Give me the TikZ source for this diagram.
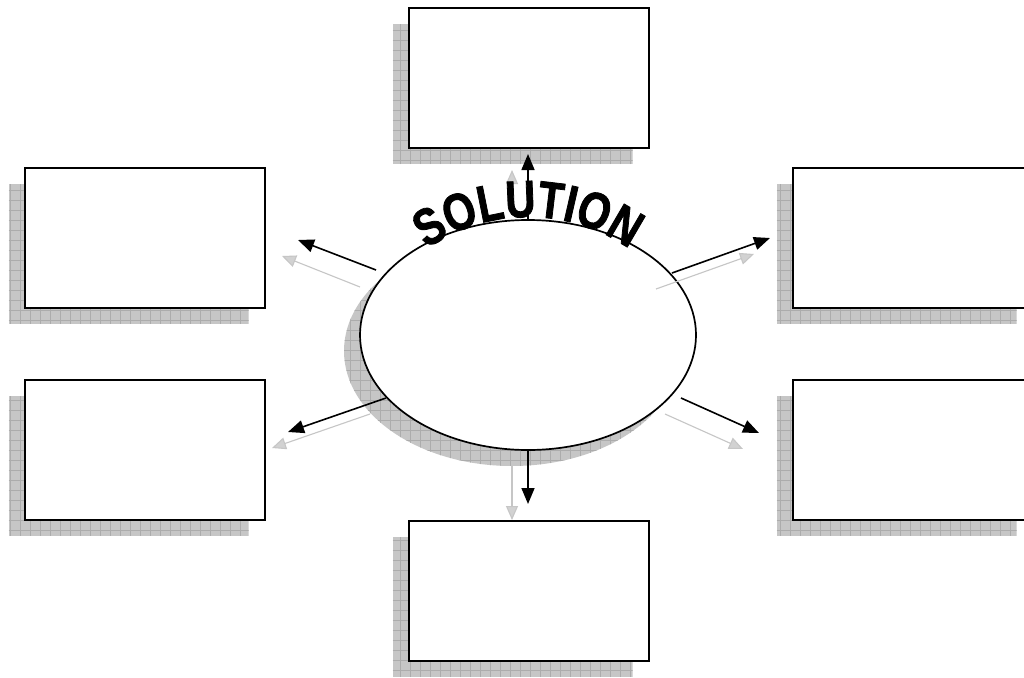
\documentclass[tikz,border=0pt]{standalone}
\usepackage{fontspec}
\newfontfamily\solfont{Liberation Sans}[FakeStretch=0.8,FakeBold=1.5]
\usetikzlibrary{arrows.meta,decorations.text,shapes.geometric,backgrounds,calc}
\tikzset{
  box/.style={draw=black, line width=2pt, fill=white, minimum width=240pt, minimum height=140pt, inner sep=0pt, outer sep=0pt},
  shfill/.style={fill=gray!45},
  shgrid/.style={draw=gray!65, line width=0.6pt},
  arr/.style={line width=1.6pt, -{Triangle[length=16pt,width=13pt]}},
  sarr/.style={line width=1.1pt, draw=gray!45, -{Triangle[length=14pt,width=12pt,fill=gray!35]}},
}
\newcommand\shadowrect[2]{%
  \begin{scope}
    \clip #1 rectangle #2;
    \fill[shfill] #1 rectangle #2;
    \draw[shgrid, step=10pt] #1 grid #2;
  \end{scope}}
\begin{document}
\begin{tikzpicture}[x=1pt,y=1pt]
\clip (0,0) rectangle (1024,-677);
% boxes
\node[box] (top) at (528.5,-78) {};
\node[box] (lt) at (144.5,-237.5) {};
\node[box] (lb) at (144.5,-449.5) {};
\node[box] (rt) at (912.5,-237.5) {};
\node[box] (rb) at (912.5,-449.5) {};
\node[box] (bot) at (528.5,-591) {};
% ellipse
\node[ellipse, draw=black, line width=1.7pt, fill=white, minimum width=336pt, minimum height=230pt, inner sep=0pt, outer sep=0pt] (sol) at (528,-335) {};
\begin{scope}[on background layer]
  \fill[white] (0,0) rectangle (1024,-677);
  \foreach \b in {top,lt,lb,rt,rb,bot}{
    \shadowrect{($(\b.south west)+(-16,-16)$)}{($(\b.north east)+(-16,-16)$)}
  }
  \begin{scope}
    \clip (512,-351) ellipse[x radius=168, y radius=115];
    \fill[shfill] (340,-230) rectangle (690,-470);
    \draw[shgrid, step=10pt] (340,-230) grid (690,-470);
  \end{scope}
\end{scope}
% arrow end points
\coordinate (eul) at (376,-270);
\coordinate (eur) at (672,-273);
\coordinate (edl) at (386,-398);
\coordinate (edr) at (681,-398);
\coordinate (tu) at (528,-154);
\coordinate (tul) at (298,-240);
\coordinate (tur) at (770,-238);
\coordinate (tdl) at (288,-432);
\coordinate (tdr) at (759,-433);
\coordinate (td) at (528,-504);
% shadow arrows
\coordinate (gsu) at (512,-192);
\coordinate (gtu) at (512,-170);
\coordinate (gsul) at (360,-287);
\coordinate (gtul) at (282,-256);
\coordinate (gsur) at (656,-289);
\coordinate (gtur) at (754,-254);
\coordinate (gsdl) at (370,-414);
\coordinate (gtdl) at (272,-448);
\coordinate (gsdr) at (665,-414);
\coordinate (gtdr) at (743,-449);
\coordinate (gsd) at (512,-466);
\coordinate (gtd) at (512,-520);
\draw[sarr] (gsu) -- (gtu);
\draw[sarr] (gsul) -- (gtul);
\draw[sarr] (gsur) -- (gtur);
\draw[sarr] (gsdl) -- (gtdl);
\draw[sarr] (gsdr) -- (gtdr);
\draw[sarr] (gsd) -- (gtd);
% arrows
\draw[arr] (sol.north) -- (tu);
\draw[arr] (eul) -- (tul);
\draw[arr] (eur) -- (tur);
\draw[arr] (edl) -- (tdl);
\draw[arr] (edr) -- (tdr);
\draw[arr] (sol.south) -- (td);
% title along arc
\coordinate (tc) at (528,-393);
\path[decorate, decoration={text along path, text align=center, raise=1pt,
  text={|\solfont\bfseries\fontsize{52}{56}\selectfont|SOLUTION}}]
  ($(tc)+(150:175)$) arc[start angle=150, end angle=30, radius=175];
\end{tikzpicture}
\end{document}
